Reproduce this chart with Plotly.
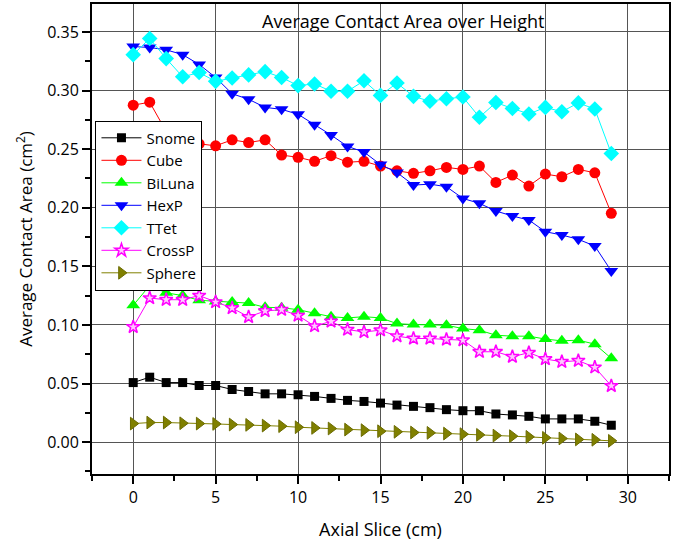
import plotly.graph_objects as go

x_slice = list(range(30))

snome = [0.0508, 0.0554, 0.0508, 0.0508, 0.0483, 0.0483, 0.0449, 0.0432, 0.0412, 0.0412,
         0.0404, 0.0390, 0.0373, 0.0356, 0.0347, 0.0333, 0.0316, 0.0305, 0.0294, 0.0277,
         0.0268, 0.0268, 0.0240, 0.0232, 0.0220, 0.0198, 0.0198, 0.0198, 0.0178, 0.0144]
cube = [0.2875, 0.2900, 0.2650, 0.2580, 0.2545, 0.2528, 0.2579, 0.2556, 0.2579, 0.2449,
        0.2430, 0.2396, 0.2444, 0.2388, 0.2396, 0.2355, 0.2315, 0.2293, 0.2315, 0.2344,
        0.2327, 0.2355, 0.2216, 0.2278, 0.2185, 0.2287, 0.2264, 0.2327, 0.2298, 0.1952]
biluna = [0.1167, 0.1336, 0.1274, 0.1250, 0.1210, 0.1200, 0.1195, 0.1186, 0.1150, 0.1147,
          0.1130, 0.1100, 0.1070, 0.1060, 0.1070, 0.1060, 0.1011, 0.1003, 0.1003, 0.0997,
          0.0969, 0.0955, 0.0912, 0.0904, 0.0904, 0.0879, 0.0864, 0.0870, 0.0836, 0.0715]
hexp = [0.3375, 0.3367, 0.3347, 0.3306, 0.3222, 0.3111, 0.2972, 0.2925, 0.2856, 0.2839,
        0.2797, 0.2708, 0.2620, 0.2523, 0.2475, 0.2368, 0.2300, 0.2193, 0.2201, 0.2179,
        0.2079, 0.2037, 0.1972, 0.1929, 0.1895, 0.1795, 0.1767, 0.1730, 0.1673, 0.1460]
ttet = [0.3306, 0.3444, 0.3272, 0.3117, 0.3153, 0.3078, 0.3106, 0.3133, 0.3161, 0.3111,
        0.3042, 0.3056, 0.2994, 0.2994, 0.3083, 0.2958, 0.3064, 0.2950, 0.2908, 0.2930,
        0.2944, 0.2772, 0.2897, 0.2847, 0.2800, 0.2856, 0.2819, 0.2894, 0.2842, 0.2463]
crossp = [0.0983, 0.1229, 0.1215, 0.1215, 0.1250, 0.1195, 0.1144, 0.1068, 0.1119, 0.1130,
          0.1080, 0.0990, 0.1030, 0.0960, 0.0940, 0.0955, 0.0904, 0.0884, 0.0884, 0.0876,
          0.0870, 0.0771, 0.0771, 0.0729, 0.0763, 0.0709, 0.0686, 0.0695, 0.0638, 0.0480]
sphere = [0.0158, 0.0167, 0.0167, 0.0161, 0.0158, 0.0155, 0.0150, 0.0147, 0.0141, 0.0136,
          0.0127, 0.0121, 0.0116, 0.0107, 0.0102, 0.0093, 0.0088, 0.0082, 0.0079, 0.0073,
          0.0068, 0.0062, 0.0056, 0.0051, 0.0045, 0.0037, 0.0031, 0.0023, 0.0020, 0.0011]

series = [
    ("Snome", snome, "#000000", "square", 9),
    ("Cube", cube, "#ff0000", "circle", 11),
    ("BiLuna", biluna, "#00ff00", "triangle-up", 12),
    ("HexP", hexp, "#0000ff", "triangle-down", 12),
    ("TTet", ttet, "#00ffff", "diamond", 12),
    ("CrossP", crossp, "#ff00ff", "star", 10),
    ("Sphere", sphere, "#808000", "triangle-right", 11),
]

fig = go.Figure()
for name, vals, col, sym, sz in series:
    mk = dict(symbol=sym, size=sz, color=col, line=dict(width=0))
    if name == "CrossP":
        mk = dict(symbol=sym, size=sz, color="#ffc8ff", line=dict(width=1.5, color=col))
    if name == "Sphere":
        mk = dict(symbol=sym, size=sz, color=col, line=dict(width=1, color="#6b6b00"))
    fig.add_trace(go.Scatter(
        x=x_slice, y=vals, name=name, mode="lines+markers",
        line=dict(color=col, width=1),
        marker=mk,
    ))

font = "Open Sans, DejaVu Sans, sans-serif"
fig.update_layout(
    width=681, height=548,
    margin=dict(l=92, r=12, t=2, b=74),
    paper_bgcolor="white", plot_bgcolor="white",
    font=dict(family=font, size=15, color="black"),
    showlegend=True,
    legend=dict(
        x=0.006, y=0.752, xanchor="left", yanchor="top",
        bgcolor="white", bordercolor="black", borderwidth=1,
        font=dict(size=15, family=font),
        tracegroupgap=0, itemwidth=40,
    ),
    annotations=[dict(
        text="Average Contact Area over Height", xref="paper", yref="paper",
        x=0.539, y=0.964, xanchor="center", yanchor="middle", showarrow=False,
        font=dict(size=18, family=font),
    )],
)
fig.update_xaxes(
    range=[-2.5, 32.5], tickmode="linear", tick0=0, dtick=5,
    ticks="outside", ticklen=8, tickwidth=1.5, tickcolor="black",
    minor=dict(ticks="outside", ticklen=5, tickwidth=1.5, dtick=2.5, tick0=0, tickcolor="black", showgrid=False),
    showline=True, linecolor="black", linewidth=2, mirror=True,
    showgrid=True, gridcolor="#555555", gridwidth=1, zeroline=False,
    title=dict(text="Axial Slice (cm)", font=dict(size=18), standoff=16),
    tickfont=dict(size=16),
)
fig.update_yaxes(
    range=[-0.0272, 0.3738], tickmode="linear", tick0=0, dtick=0.05, tickformat=".2f",
    ticks="outside", ticklen=8, tickwidth=1.5, tickcolor="black",
    minor=dict(ticks="outside", ticklen=5, tickwidth=1.5, dtick=0.025, tick0=0, tickcolor="black", showgrid=False),
    showline=True, linecolor="black", linewidth=2, mirror=True,
    showgrid=True, gridcolor="#555555", gridwidth=1, zeroline=False,
    title=dict(text="Average Contact Area (cm<sup>2</sup>)", font=dict(size=17), standoff=10),
    tickfont=dict(size=16),
)
fig.write_html("out.html")
